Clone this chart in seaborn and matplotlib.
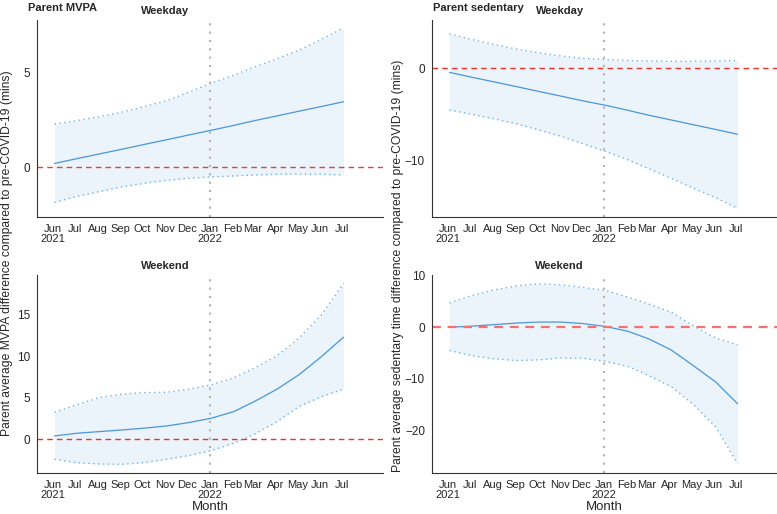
import numpy as np
import pandas as pd
import seaborn as sns
import matplotlib.pyplot as plt

# monthly points, Jun 2021 .. Jul 2022
months = pd.date_range("2021-06-01", periods=14, freq="MS") + pd.Timedelta(days=2)
tick_months = pd.date_range("2021-06-01", "2022-07-01", freq="MS")
tick_labels = ["Jun\n2021", "Jul", "Aug", "Sep", "Oct", "Nov", "Dec",
               "Jan\n2022", "Feb", "Mar", "Apr", "May", "Jun", "Jul"]

# Parent MVPA, weekday
mvpa_wd_mean = [0.19, 0.44, 0.69, 0.94, 1.19, 1.44, 1.69, 1.94, 2.20, 2.45, 2.70, 2.95, 3.20, 3.45]
mvpa_wd_low = [-1.87, -1.55, -1.30, -1.05, -0.86, -0.70, -0.60, -0.52, -0.47, -0.42, -0.38, -0.37, -0.38, -0.42]
mvpa_wd_high = [2.27, 2.45, 2.66, 2.90, 3.19, 3.50, 3.95, 4.43, 4.85, 5.28, 5.72, 6.17, 6.75, 7.35]

# Parent MVPA, weekend
mvpa_we_mean = [0.40, 0.72, 0.92, 1.12, 1.33, 1.60, 2.00, 2.53, 3.33, 4.54, 6.03, 7.77, 9.97, 12.3]
mvpa_we_low = [-2.41, -2.82, -2.98, -3.02, -2.82, -2.41, -1.97, -1.37, -0.48, 0.60, 2.12, 3.93, 5.14, 6.03]
mvpa_we_high = [3.25, 4.14, 5.02, 5.43, 5.62, 5.66, 6.03, 6.55, 7.43, 8.56, 10.05, 12.18, 15.0, 18.8]

# Parent sedentary, weekday
sed_wd_mean = [-0.47, -0.99, -1.50, -2.02, -2.53, -3.05, -3.56, -4.04, -4.59, -5.11, -5.63, -6.14, -6.66, -7.18]
sed_wd_low = [-4.55, -5.0, -5.5, -6.05, -6.7, -7.4, -8.2, -9.05, -9.95, -10.9, -11.95, -13.0, -14.05, -15.2]
sed_wd_high = [3.7, 3.1, 2.55, 2.05, 1.65, 1.3, 1.05, 0.92, 0.82, 0.75, 0.72, 0.72, 0.75, 0.82]

# Parent sedentary, weekend
sed_we_mean = [0.0, 0.2, 0.5, 0.8, 1.0, 1.0, 0.7, 0.15, -0.8, -2.25, -4.4, -7.4, -10.6, -14.8]
sed_we_low = [-4.5, -5.5, -6.1, -6.45, -6.3, -5.95, -6.0, -6.6, -7.6, -9.35, -11.5, -14.9, -19.3, -26.4]
sed_we_high = [4.7, 6.1, 7.2, 8.0, 8.4, 8.2, 7.7, 7.1, 5.8, 4.5, 2.9, 0.3, -2.1, -3.4]

LINE = "#4a97d9"
EDGE = "#6fb1e8"
FILL = "#ebf3fb"

sns.set_style("white")
plt.rcParams['font.family'] = ['Liberation Sans', 'DejaVu Sans']

fig = plt.figure(figsize=(7.77, 5.14), dpi=100)


def panel(rect, mean, low, high, ylim, yticks, title, hline_color, hline_lw=1):
    ax = fig.add_axes(rect)
    ax.fill_between(months, low, high, color=FILL, lw=0)
    sns.lineplot(x=months, y=low, ax=ax, color=EDGE, lw=1, linestyle=(0, (1, 2.5)))
    sns.lineplot(x=months, y=high, ax=ax, color=EDGE, lw=1, linestyle=(0, (1, 2.5)))
    sns.lineplot(x=months, y=mean, ax=ax, color=LINE, lw=0.9)
    ax.axhline(0, color=hline_color, lw=hline_lw, linestyle=(0, (4, 3)))
    ax.axvline(pd.Timestamp("2022-01-01"), color="#b3b3b3", lw=1.5, linestyle=(0, (1, 3)))
    ax.set_xlim(pd.Timestamp("2021-05-10"), pd.Timestamp("2022-08-26"))
    ax.set_ylim(*ylim)
    ax.set_xticks(tick_months)
    ax.set_xticklabels(tick_labels, fontsize=8, linespacing=1.0)
    ax.set_yticks(yticks)
    ax.tick_params(axis="y", labelsize=8.5, length=3, width=0.8, color="#333333", pad=2)
    ax.tick_params(axis="x", length=3, width=0.8, color="#333333", pad=2)
    ax.set_xlabel("")
    ax.set_ylabel("")
    for s in ["top", "right"]:
        ax.spines[s].set_visible(False)
    for s in ["left", "bottom"]:
        ax.spines[s].set_color("#333333")
        ax.spines[s].set_linewidth(0.8)
    ax.text(0.37, 1.02, title, transform=ax.transAxes, ha="center", va="bottom",
            fontsize=8, fontweight="bold")
    return ax


W = 777.0
H = 514.0


def rect(x0, y0, x1, y1):
    return [x0 / W, 1 - y1 / H, (x1 - x0) / W, (y1 - y0) / H]


panel(rect(37, 20, 383, 217), mvpa_wd_mean, mvpa_wd_low, mvpa_wd_high,
      (-2.64, 7.77), [0, 5], "Weekday", "#dc4440")
panel(rect(37, 275, 383, 473), mvpa_we_mean, mvpa_we_low, mvpa_we_high,
      (-4.07, 19.8), [0, 5, 10, 15], "Weekend", "#e8332f")
panel(rect(432, 20, 777, 217), sed_wd_mean, sed_wd_low, sed_wd_high,
      (-16.14, 5.2), [-10, 0], "Weekday", "#f0302c")
panel(rect(432, 275, 777, 473), sed_we_mean, sed_we_low, sed_we_high,
      (-28.2, 10.1), [-20, -10, 0, 10], "Weekend", "#f27272", hline_lw=1.6)

fig.text(28 / W, 1 - 3 / H, "Parent MVPA", ha="left", va="top", fontsize=8, fontweight="bold")
fig.text(433 / W, 1 - 3 / H, "Parent sedentary", ha="left", va="top", fontsize=8, fontweight="bold")

fig.text(7 / W, 1 - 253 / H, "Parent average MVPA difference compared to pre-COVID-19 (mins)",
         rotation=90, ha="center", va="center", fontsize=8.7)
fig.text(398 / W, 1 - 266 / H, "Parent average sedentary time difference compared to pre-COVID-19 (mins)",
         rotation=90, ha="center", va="center", fontsize=8.7)

fig.text(210 / W, 1 - 507 / H, "Month", ha="center", va="center", fontsize=9.5)
fig.text(604 / W, 1 - 507 / H, "Month", ha="center", va="center", fontsize=9.5)

fig.savefig("out.png", dpi=100)
